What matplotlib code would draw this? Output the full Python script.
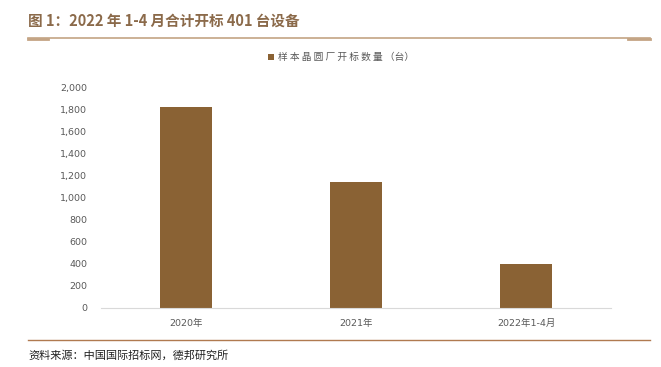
import numpy as np
import matplotlib.pyplot as plt

plt.rcParams['font.family'] = ['Noto Sans CJK SC', 'DejaVu Sans']

categories = ['2020年', '2021年', '2022年1-4月']
values = [1820, 1140, 401]
yticks = [0, 200, 400, 600, 800, 1000, 1200, 1400, 1600, 1800, 2000]

bar_color = '#8A6234'
line_color = '#C4A484'

fig = plt.figure(figsize=(6.61, 3.67), dpi=100)
ax = fig.add_axes([0.1528, 0.1608, 0.7716, 0.6021])

x = np.arange(len(categories))
ax.bar(x, values, width=0.31, color=bar_color, label='样 本 晶 圆 厂 开 标 数 量 （台）')
ax.set_xlim(-0.5, len(categories) - 0.5)
ax.set_ylim(0, 2000)
ax.set_yticks(yticks)
ax.set_yticklabels([f'{v:,}' for v in yticks], family=['DejaVu Sans', 'Noto Sans CJK SC'])
ax.set_xticks(x)
ax.set_xticklabels(categories, family=['DejaVu Sans', 'Noto Sans CJK SC'])
ax.tick_params(axis='both', length=0, labelsize=6.8, colors='#595959')
ax.tick_params(axis='y', pad=10)
ax.tick_params(axis='x', pad=8)
for s in ['top', 'right', 'left']:
    ax.spines[s].set_visible(False)
ax.spines['bottom'].set_color('#D9D9D9')

leg = ax.legend(loc='center', bbox_to_anchor=(0.47, 1.135), frameon=False,
                fontsize=7, handlelength=0.6, handleheight=0.6, handletextpad=0.4)
for t in leg.get_texts():
    t.set_color('#595959')

# title and header line
fig.text(28 / 661, 1 - 21 / 367, '图 1：2022 年 1-4 月合计开标 401 台设备', fontsize=10.5,
         fontweight='bold', color='#8B6A4A', va='center', ha='left')
fig.add_artist(plt.Line2D([28 / 661, 650 / 661], [1 - 38 / 367] * 2, color=line_color, lw=1.2))
fig.add_artist(plt.Line2D([28 / 661, 48 / 661], [1 - 38.5 / 367] * 2, color=line_color, lw=2))
fig.add_artist(plt.Line2D([628 / 661, 650 / 661], [1 - 38.5 / 367] * 2, color=line_color, lw=2))

# bottom line and source
fig.add_artist(plt.Line2D([28 / 661, 650 / 661], [1 - 340 / 367] * 2, color='#B07A50', lw=1))
fig.text(28 / 661, 1 - 355 / 367, '资料来源：中国国际招标网，德邦研究所', fontsize=8,
         color='#222222', va='center', ha='left')

fig.savefig('out.png', dpi=100)
